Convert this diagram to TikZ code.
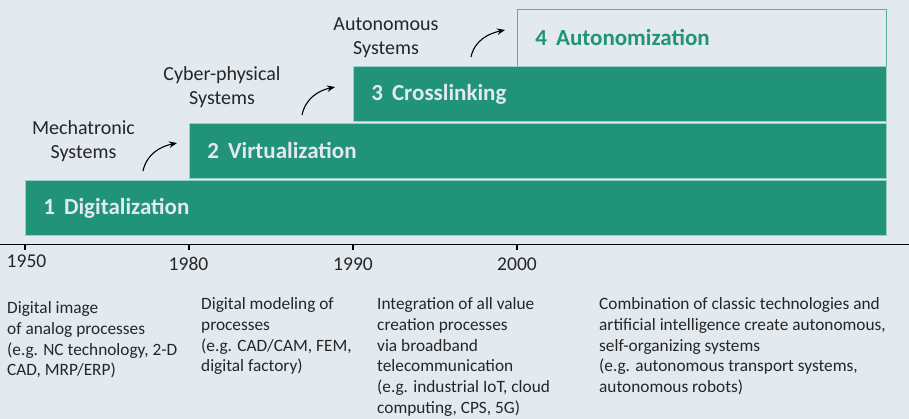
\documentclass[tikz,border=0pt]{standalone}
\usepackage{fontspec}
\setmainfont{Carlito}
\usetikzlibrary{arrows.meta}
\definecolor{bg}{HTML}{E2E9EF}
\definecolor{barcol}{HTML}{219379}
\definecolor{txt}{HTML}{262626}
\tikzset{
  bar/.style={fill=barcol, draw=barcol!45!white, line width=0.8pt, anchor=north west,
    minimum height=55pt, inner xsep=18pt, inner ysep=0pt, align=left,
    text=bg, font=\fontsize{23}{27}\selectfont\bfseries},
  openbar/.style={bar, fill=bg, draw=none, text=barcol},
  lab/.style={align=center, text=txt, font=\fontsize{20}{24.4}\selectfont, inner sep=0pt},
  year/.style={text=txt, font=\fontsize{19.5}{23}\selectfont, inner sep=0pt},
  desc/.style={align=left, anchor=north west, text=txt, inner sep=0pt,
    font=\fontsize{17.3}{20.7}\selectfont},
  arr/.style={-{Stealth[length=8pt,width=6.5pt]}, line width=1.1pt, black},
  axis/.style={line width=1.2pt, black},
  tick/.style={line width=1.8pt, black}
}
\newcommand{\gapnum}{\hspace{9pt}}
\begin{document}
\begin{tikzpicture}[x=1pt,y=-1pt]
\fill[bg] (0,0) rectangle (909,419);
\useasboundingbox (0,0) rectangle (909,419);

% bars
\node[bar, minimum width=861pt, text width=825pt] (b1) at (25,180) {1\gapnum Digitalization};
\node[bar, minimum width=697pt, text width=661pt] (b2) at (189,123) {2\gapnum Virtualization};
\node[bar, minimum width=533pt, text width=497pt] (b3) at (353,66) {3\gapnum Crosslinking};
\node[openbar, minimum width=369pt, text width=333pt, minimum height=56pt] (b4) at (517,9) {4\gapnum Autonomization};
\draw[barcol!75!white, line width=0.9pt] (b4.south west) -- (b4.north west) -- (b4.north east) -- (b4.south east);

% axis
\coordinate (axl) at (0,244.5);
\coordinate (axr) at (909,244.5);
\draw[axis] (axl) -- (axr);
\foreach \x/\n in {25/t1,189/t2,353/t3,517/t4}{
  \coordinate (\n a) at (\x,244.5);
  \coordinate (\n b) at (\x,250.5);
  \draw[tick] (\n a) -- (\n b);
}

% years
\node[year] (y1) at (26.5,261) {1950};
\node[year] (y2) at (188.5,264) {1980};
\node[year] (y3) at (353,264) {1990};
\node[year] (y4) at (517,264) {2000};

% system labels
\node[lab] (l1) at (83.5,141) {Mechatronic\\Systems};
\node[lab] (l2) at (222,87) {Cyber-physical\\Systems};
\node[lab] (l3) at (386,37.5) {Autonomous\\Systems};

% arrows
\coordinate (a1s) at (143,171);
\coordinate (a1e) at (177,143);
\coordinate (a2s) at (302,115);
\coordinate (a2e) at (335,87);
\coordinate (a3s) at (471,57);
\coordinate (a3e) at (505,30);
\draw[arr] (a1s) to[out=78,in=192] (a1e);
\draw[arr] (a2s) to[out=78,in=192] (a2e);
\draw[arr] (a3s) to[out=78,in=192] (a3e);

% descriptions
\node[desc] (d1) at (7,301.5) {Digital image\\of analog processes\\(e.g. NC technology, 2-D\\CAD, MRP/ERP)};
\node[desc] (d2) at (201,297.5) {Digital modeling of\\processes\\(e.g. CAD/CAM, FEM,\\digital factory)};
\node[desc] (d3) at (377,297.5) {Integration of all value\\creation processes\\via broadband\\telecommunication\\(e.g. industrial IoT, cloud\\computing, CPS, 5G)};
\node[desc] (d4) at (599,297.5) {Combination of classic technologies and\\artificial intelligence create autonomous,\\self-organizing systems\\(e.g. autonomous transport systems,\\autonomous robots)};
\end{tikzpicture}
\end{document}
